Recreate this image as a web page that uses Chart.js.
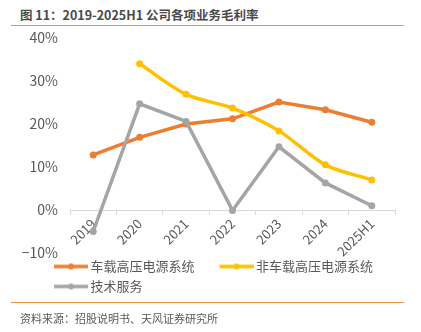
<!DOCTYPE html>
<html lang="zh">
<head>
<meta charset="UTF-8">
<title>公司各项业务毛利率</title>
<script src="https://cdn.jsdelivr.net/npm/chart.js"></script>
<style>
  body { margin: 0; background: #fff; }
  #wrap { position: relative; width: 421px; height: 332px; font-family: "Noto Sans CJK SC", sans-serif; }
  .rule { position: absolute; left: 11px; width: 393px; height: 0; border-top: 1.5px solid #f0913c; }
</style>
</head>
<body>
<div id="wrap">
  <div style="position:absolute;left:20px;top:6px;font-size:12.5px;font-weight:bold;color:#4a4a4a;line-height:18px;">图 11：2019-2025H1 公司各项业务毛利率</div>
  <div class="rule" style="top:25px;"></div>
  <div style="position:absolute;left:0;top:27px;width:421px;height:276px;">
    <canvas id="chart"></canvas>
  </div>
  <div class="rule" style="top:302px;"></div>
  <div style="position:absolute;left:20px;top:310px;font-size:11px;color:#595959;line-height:16px;">资料来源：招股说明书、天风证券研究所</div>
</div>

<script>
// 数据（%）
const years = ['2019', '2020', '2021', '2022', '2023', '2024', '2025H1'];
const onboard = [12.8, 16.9, 20.0, 21.2, 25.1, 23.3, 20.4];     // 车载高压电源系统
const offboard = [null, 34.0, 26.9, 23.7, 18.4, 10.5, 7.0];     // 非车载高压电源系统
const service = [-5.0, 24.7, 20.6, -0.1, 14.7, 6.3, 1.0];       // 技术服务
const seriesNames = ['车载高压电源系统', '非车载高压电源系统', '技术服务'];
const colors = ['#ED7D31', '#FFC000', '#A5A5A5'];

// 图例图标：线段 + 圆点（比图例框略宽，让文字贴近线段）
function legendIcon(color) {
  const c = document.createElement('canvas');
  c.width = 56; c.height = 10;
  const g = c.getContext('2d');
  g.strokeStyle = color; g.lineWidth = 3.5;
  g.beginPath(); g.moveTo(22, 5); g.lineTo(56, 5); g.stroke();
  g.fillStyle = color;
  g.beginPath(); g.arc(39, 5, 3, 0, Math.PI * 2); g.fill();
  return c;
}
const icons = colors.map(legendIcon);

const font = "'Noto Sans CJK SC', sans-serif";

// y 轴标签区域向左放宽，避免 "−10%" 被裁掉
const widenYLabels = {
  id: 'widenYLabels',
  afterLayout(chart) { chart.scales.y.left = 5; }
};

new Chart(document.getElementById('chart'), {
  type: 'line',
  data: {
    labels: years,
    datasets: [
      { label: seriesNames[0], data: onboard, borderColor: colors[0], backgroundColor: colors[0], order: 3 },
      { label: seriesNames[1], data: offboard, borderColor: colors[1], backgroundColor: colors[1], order: 2, tension: 0.3 },
      { label: seriesNames[2], data: service, borderColor: colors[2], backgroundColor: colors[2], order: 1 }
    ]
  },
  plugins: [widenYLabels],
  options: {
    responsive: true,
    maintainAspectRatio: false,
    animation: false,
    devicePixelRatio: 1,
    layout: { padding: { top: 11, left: 29, right: 26, bottom: 0 } },
    elements: {
      line: { borderWidth: 3.5, tension: 0 },
      point: { radius: 3.5, borderWidth: 0, hoverRadius: 4 }
    },
    plugins: {
      title: { display: false },
      tooltip: { enabled: false },
      legend: {
        position: 'bottom',
        align: 'start',
        labels: {
          usePointStyle: true,
          pointStyleWidth: 48,
          padding: 7,
          color: '#595959',
          font: { family: font, size: 13 },
          sort: (a, b) => a.datasetIndex - b.datasetIndex,
          generateLabels: (chart) => {
            const items = Chart.defaults.plugins.legend.labels.generateLabels(chart);
            items.forEach(it => { it.pointStyle = icons[it.datasetIndex]; });
            return items;
          }
        }
      }
    },
    scales: {
      x: {
        position: { y: 0 },
        offset: true,
        grid: { display: true, drawOnChartArea: false, offset: true, tickLength: 4, color: '#d9d9d9' },
        border: { display: true, color: '#d9d9d9', width: 1 },
        ticks: {
          color: '#595959',
          font: { family: font, size: 13 },
          minRotation: 45,
          maxRotation: 45,
          padding: 2,
          autoSkip: false
        },
        afterFit: (scale) => { scale.height = 0; scale.paddingLeft = 0; scale.paddingRight = 0; }
      },
      y: {
        min: -10,
        max: 40,
        grid: { display: false, drawTicks: false },
        border: { display: false },
        ticks: {
          stepSize: 10,
          padding: 12,
          color: '#595959',
          font: { family: font, size: 14 },
          callback: (v) => (v < 0 ? '\u2212' + Math.abs(v) : v) + '%'
        },
        afterFit: (scale) => { scale.width = 41; scale.paddingTop = 0; scale.paddingBottom = 0; }
      }
    }
  }
});
</script>
</body>
</html>
